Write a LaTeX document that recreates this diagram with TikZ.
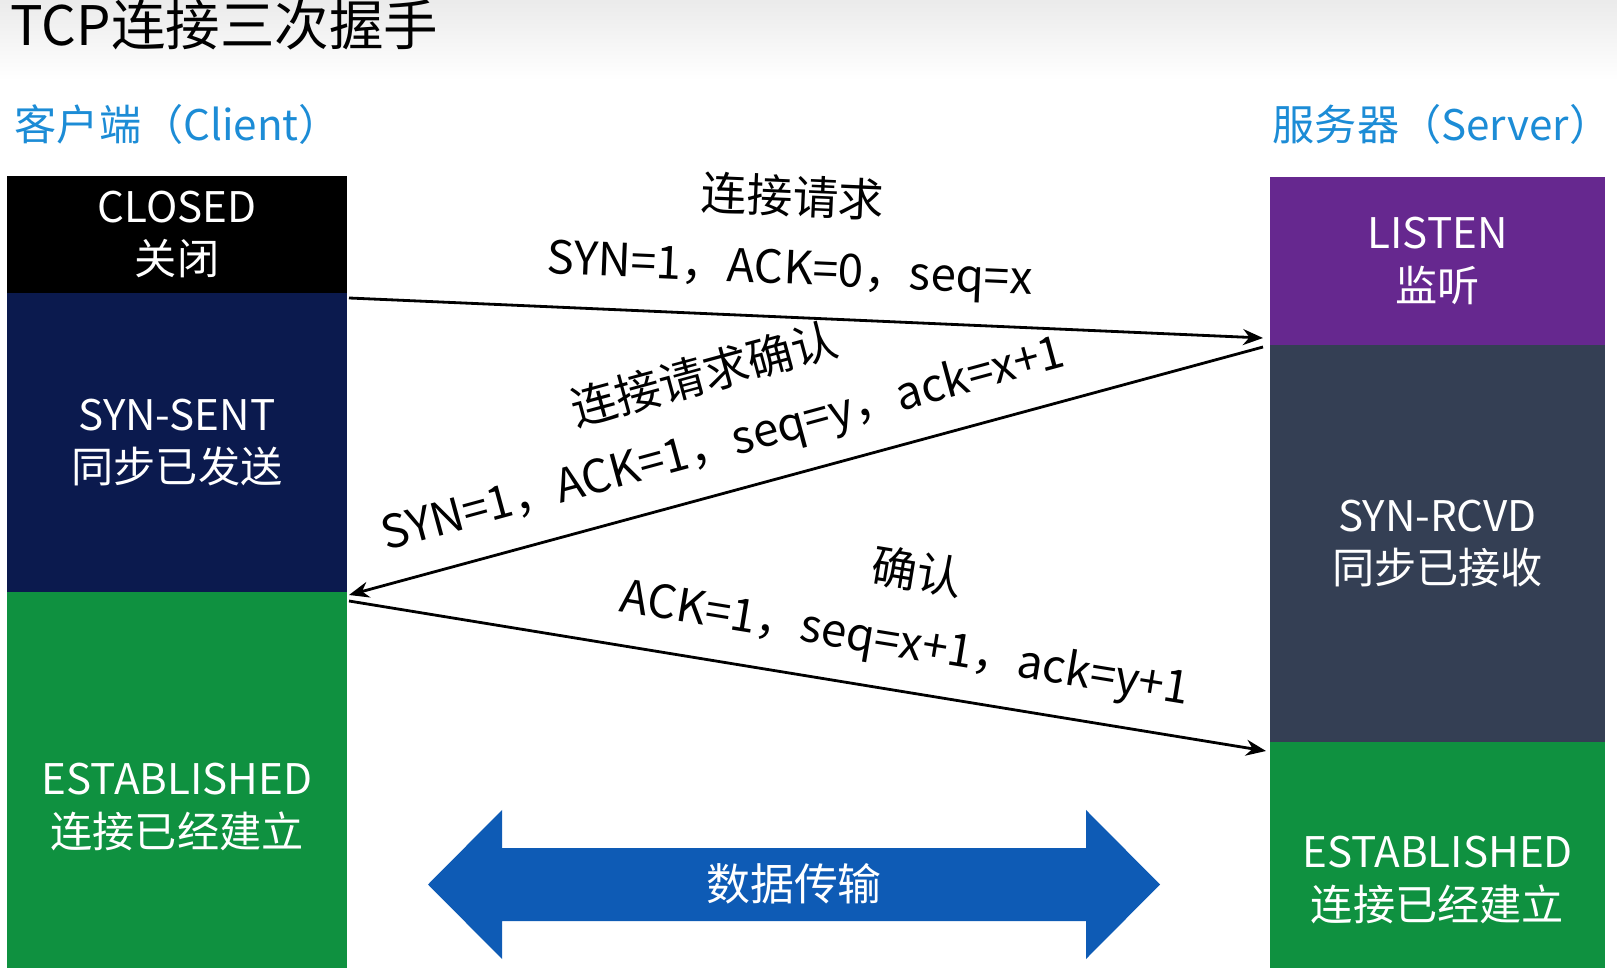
\documentclass[tikz,border=0pt]{standalone}
\usepackage{fontspec}
\setmainfont{Noto Sans CJK SC}
\usepackage{tikz}
\usetikzlibrary{positioning,arrows.meta,calc}
\usepackage{xcolor}
\definecolor{sentblue}{HTML}{0B1A4E}
\definecolor{estgreen}{HTML}{0F9140}
\definecolor{listenpurple}{HTML}{66288F}
\definecolor{rcvdgray}{HTML}{343F54}
\definecolor{datablue}{HTML}{0E5BB5}
\definecolor{headblue}{HTML}{1C8CD6}

\begin{document}
\begin{tikzpicture}[>={Stealth[length=2mm,width=1.6mm]},
  stbox/.style={text=white,align=center,inner sep=0pt,outer sep=0pt,font=\fontsize{12}{15}\selectfont},
  msg/.style={font=\fontsize{13}{16}\selectfont,sloped,inner sep=0pt},
  hd/.style={text=headblue,font=\fontsize{12}{14}\selectfont,anchor=west,inner sep=0pt}]
\useasboundingbox (0,0) rectangle (16.17,9.70);
\shade[top color=black!8,bottom color=white] (0,9.70) rectangle (16.17,8.90);
\node[anchor=base west,inner sep=0pt,font=\fontsize{15.5}{18}\selectfont] (title) at (0.10,9.24) {TCP连接三次握手};
\node[hd] (client) at (0.14,8.46) {客户端（Client）};
\node[hd] (server) at (12.72,8.46) {服务器（Server）};

% client side
\node[stbox,fill=black,minimum width=3.40cm,minimum height=1.17cm,anchor=north west] (closed) at (0.07,7.94) {CLOSED\\关闭};
\node[stbox,fill=sentblue,minimum width=3.40cm,minimum height=2.99cm,below=0pt of closed] (synsent) {SYN-SENT\\同步已发送};
\node[stbox,fill=estgreen,minimum width=3.40cm,minimum height=3.76cm,below=0pt of synsent] (estc) {};
\node[stbox] (estctxt) at ([yshift=-2.7mm]estc.center) {ESTABLISHED\\连接已经建立};

% server side
\node[stbox,fill=listenpurple,minimum width=3.35cm,minimum height=1.68cm,anchor=north west] (listen) at (12.70,7.93) {LISTEN\\监听};
\node[stbox,fill=rcvdgray,minimum width=3.35cm,minimum height=3.97cm,below=0pt of listen] (synrcvd) {SYN-RCVD\\同步已接收};
\node[stbox,fill=estgreen,minimum width=3.35cm,minimum height=2.26cm,below=0pt of synrcvd] (ests) {};
\node[stbox] (eststxt) at ([yshift=-2.5mm]ests.center) {ESTABLISHED\\连接已经建立};

% handshake
\draw[->,line width=.8pt] ([xshift=.2mm,yshift=-.5mm]synsent.north east) -- ([xshift=-.7mm,yshift=.7mm]listen.south west)
  node[msg,pos=.48,above=6pt] {SYN=1，ACK=0，seq=x}
  node[msg,pos=.48,above=28pt] {连接请求};
\draw[->,line width=.8pt] ([xshift=-.7mm,yshift=-.2mm]listen.south west) -- ([xshift=.2mm,yshift=-.3mm]synsent.south east)
  node[msg,pos=.577,above=6pt] {SYN=1，ACK=1，seq=y，ack=x+1}
  node[msg,pos=.577,above=28pt] {连接请求确认};
\draw[->,line width=.8pt] ([xshift=.2mm,yshift=-.9mm]synsent.south east) -- ([xshift=-.4mm,yshift=-.9mm]synrcvd.south west)
  node[msg,pos=.598,above=6pt] {ACK=1，seq=x+1，ack=y+1}
  node[msg,pos=.598,above=28pt] {确认};

% data transfer
\fill[datablue] (4.28,0.855) -- (5.02,1.60) -- (5.02,1.22) -- (10.86,1.22) -- (10.86,1.60) -- (11.60,0.855)
  -- (10.86,0.11) -- (10.86,0.49) -- (5.02,0.49) -- (5.02,0.11) -- cycle;
\node[text=white,font=\fontsize{12.5}{15}\selectfont] (data) at (7.94,0.86) {数据传输};
\end{tikzpicture}
\end{document}
